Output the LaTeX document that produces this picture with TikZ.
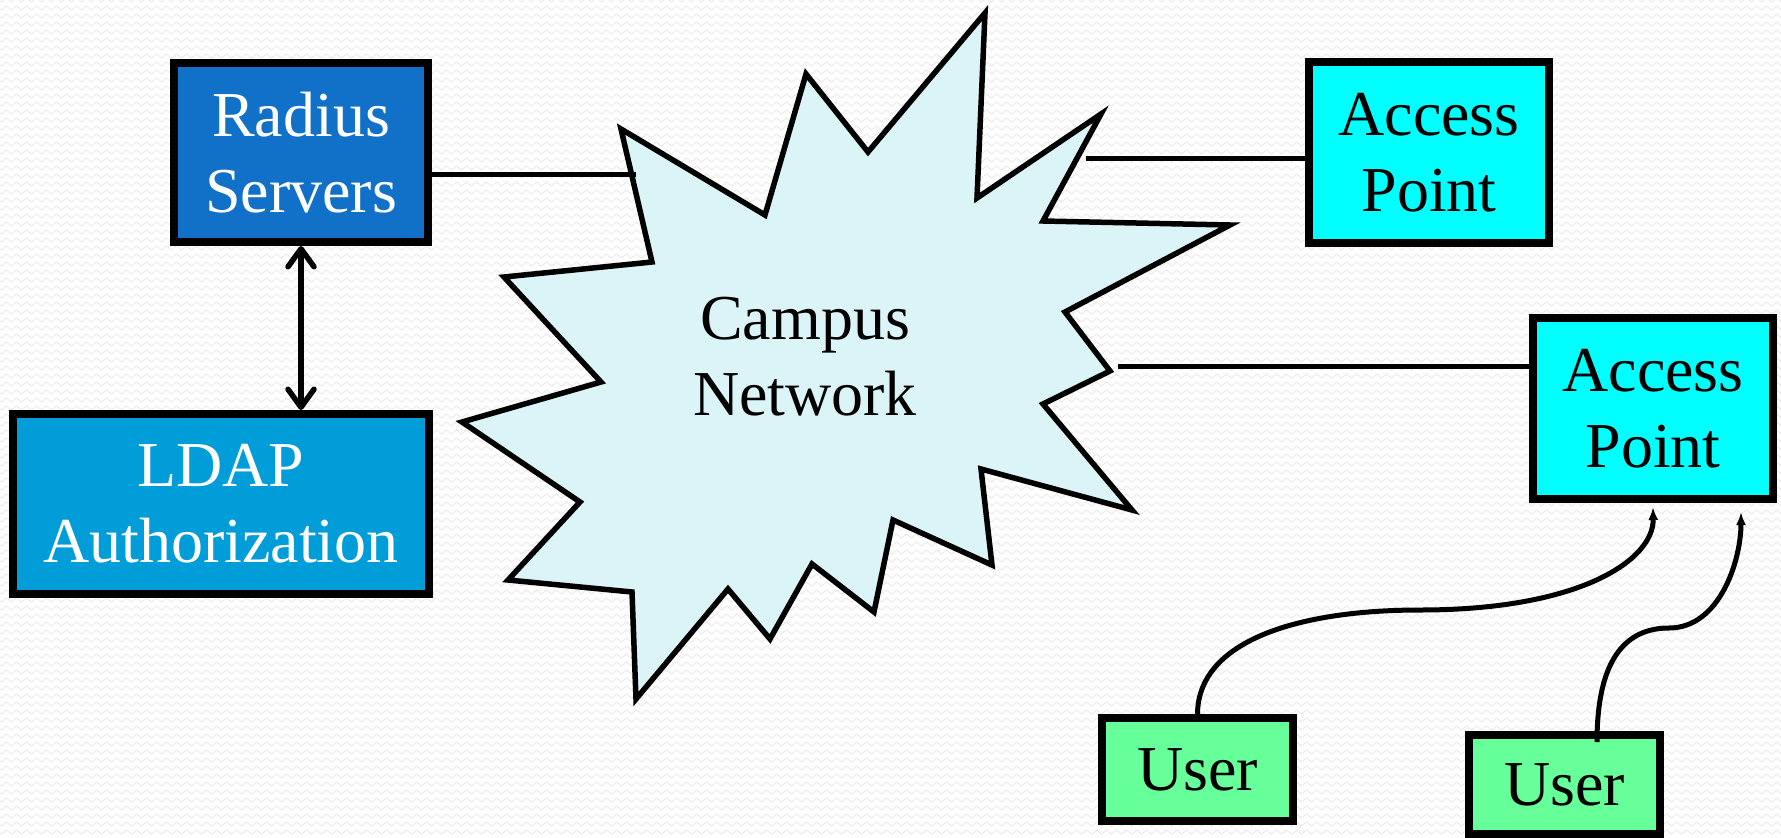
\documentclass[tikz,border=0pt]{standalone}
\usepackage{fontspec}
\setmainfont{Liberation Serif}
\usetikzlibrary{arrows.meta,decorations.pathmorphing}
\definecolor{radiusblue}{RGB}{17,112,200}
\definecolor{ldapblue}{RGB}{0,157,217}
\definecolor{apcyan}{RGB}{0,255,255}
\definecolor{usergreen}{RGB}{102,255,153}
\definecolor{cloudfill}{RGB}{219,244,248}
\definecolor{texturegray}{RGB}{234,234,234}
\begin{document}
\begin{tikzpicture}[x=1pt,y=-1pt,
  box/.style={draw=black, line width=8pt, inner sep=0pt, align=center,
    font=\fontsize{64}{76}\selectfont},
  conn/.style={draw=black, line width=5pt},
  curvy/.style={draw=black, line width=5pt, -{Latex[length=13pt,width=10pt]}},
  dbl/.style={draw=black, line width=5.5pt,
    {Straight Barb[length=18pt,width=26pt,round]}-{Straight Barb[length=18pt,width=26pt,round]}},
  cloud/.style={draw=black, line width=5.5pt, fill=cloudfill, line join=miter},
  texture/.style={draw=texturegray, line width=1pt, decorate,
    decoration={zigzag,segment length=10pt,amplitude=2pt}}]
\useasboundingbox (0,0) rectangle (1781,838);
\fill[white] (0,0) rectangle (1781,838);
\foreach \r in {0,...,105} \draw[texture] (-6,\r*8) -- (1790,\r*8);

% campus network cloud
\draw[cloud] (621,129) -- (765,215) -- (806,74) -- (868,152) -- (985,13) --
  (977,198) -- (1101,114) -- (1043,221) -- (1230,225) -- (1065,312) --
  (1110,371) -- (1043,404) -- (1132,510) -- (981,469) -- (992,565) --
  (893,520) -- (874,612) -- (812,564) -- (770,639) -- (728,589) --
  (636,699) -- (632,592) -- (508,580) -- (580,502) -- (462,422) --
  (601,382) -- (504,277) -- (652,262) -- cycle;
\node[align=center, font=\fontsize{64}{76}\selectfont] (net) at (805,357) {Campus\\Network};

% boxes
\node[box, fill=radiusblue, text=white, minimum width=254pt, minimum height=179pt] (rad) at (301,152.5) {Radius\\Servers};
\node[box, fill=ldapblue, text=white, minimum width=416pt, minimum height=180pt] (ldap) at (221,504) {LDAP\\Authorization};
\node[box, fill=apcyan, minimum width=240pt, minimum height=181pt] (ap1) at (1429,152.5) {Access\\Point};
\node[box, fill=apcyan, minimum width=240pt, minimum height=181pt] (ap2) at (1653,408.5) {Access\\Point};
\node[box, fill=usergreen, minimum width=191pt, minimum height=103pt] (u1) at (1197.5,769.5) {User};
\node[box, fill=usergreen, minimum width=191pt, minimum height=99pt] (u2) at (1564.5,784.5) {User};

% connectors
\coordinate (netW) at (636,174);
\coordinate (netNE) at (1086,158);
\coordinate (netE) at (1118,366);
\draw[conn] (rad.east |- netW) -- (netW);
\draw[conn] (netNE) -- (netNE -| ap1.west);
\draw[conn] (netE) -- (netE -| ap2.west);
\draw[dbl] (rad.south) -- (rad.south |- ldap.north);

\coordinate (m1) at (1420,610);
\draw[curvy] (u1.north) .. controls (1198,640) and (1300,610) .. (m1)
  .. controls (1580,610) and (1654,560) .. ([yshift=-4pt]ap2.south);
\coordinate (s2) at ([xshift=32.5pt,yshift=-11pt]u2.north);
\coordinate (m2) at (1669,628);
\draw[curvy] (s2) .. controls (1597,660) and (1625,628) .. (m2)
  .. controls (1720,628) and (1741,560) .. ([xshift=88pt,yshift=-9pt]ap2.south);
\end{tikzpicture}
\end{document}
